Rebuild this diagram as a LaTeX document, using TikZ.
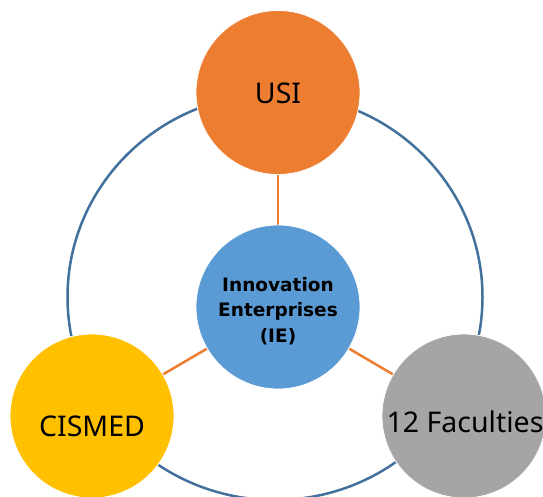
\documentclass[tikz,border=0pt]{standalone}
\usepackage{fontspec}
\setmainfont{Noto Sans}
\newfontfamily\iefont{DejaVu Sans}
\usetikzlibrary{backgrounds}
\definecolor{cOrange}{HTML}{ED7D31}
\definecolor{cBlue}{HTML}{5B9BD5}
\definecolor{cYellow}{HTML}{FFC000}
\definecolor{cGrey}{HTML}{A5A5A5}
\definecolor{cRing}{HTML}{41719C}
\tikzset{
  bubble/.style={circle, minimum size=164pt, inner sep=0pt, draw=white, line width=0.8pt},
  outertext/.style={font=\fontsize{28.5}{34}\selectfont, text=black, inner sep=0pt},
  innertext/.style={font=\iefont\bfseries\fontsize{18.5}{25.5}\selectfont, text=black, align=center, inner sep=0pt},
  ring/.style={draw=cRing, line width=2.5pt},
  link/.style={draw=cOrange, line width=2.5pt}
}
\begin{document}
\begin{tikzpicture}[x=1pt,y=-1pt]
\useasboundingbox (0,0) rectangle (543,497);
\clip (0,0) rectangle (543,497);
\draw[ring] (275,297) ellipse [x radius=207.5, y radius=203];
\node[bubble, fill=cBlue] (ie) at (278,307) {};
\node[bubble, fill=cOrange] (usi) at (278,92.5) {};
\node[bubble, fill=cYellow] (cis) at (92,416) {};
\node[bubble, fill=cGrey] (fac) at (464,416) {};
\begin{scope}[on background layer]
\draw[link] (ie) -- (usi);
\draw[link] (ie) -- (cis);
\draw[link] (ie) -- (fac);
\end{scope}
\node[outertext] (usit) at (278,93) {USI};
\node[outertext] (cist) at (92,426) {CISMED};
\node[outertext] (fact) at (465,422) {12 Faculties};
\node[innertext] (iet) at (278,311) {Innovation\\Enterprises\\(IE)};
\end{tikzpicture}
\end{document}
